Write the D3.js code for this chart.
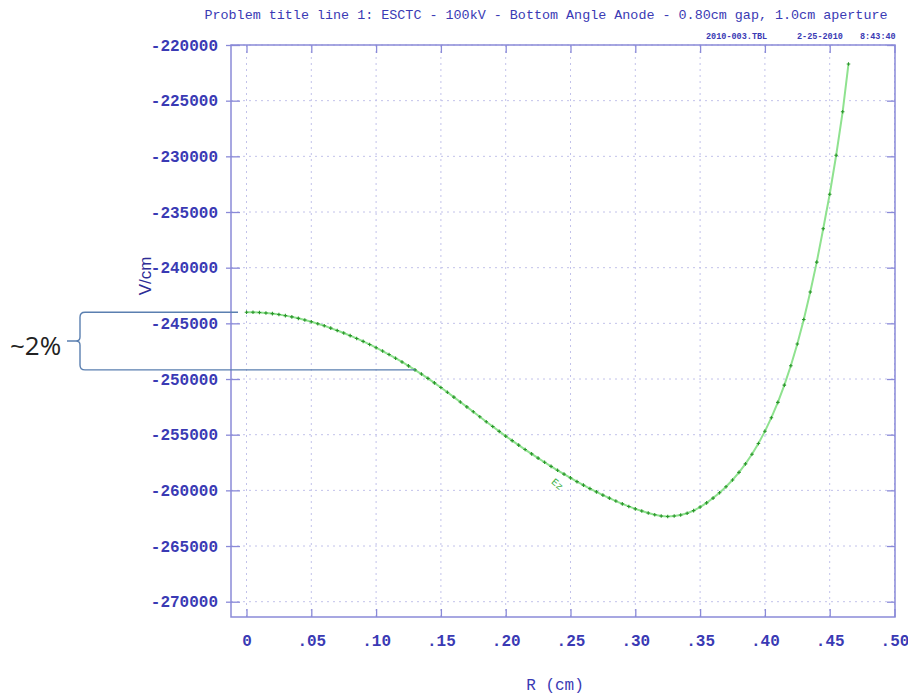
<!DOCTYPE html>
<html>
<head>
<meta charset="utf-8">
<script src="https://d3js.org/d3.v7.min.js"></script>
<style>
  body { margin: 0; background: #fff; }
  svg { display: block; }
</style>
</head>
<body>
<svg id="chart" width="908" height="696"></svg>
<script>
'use strict';

// R (cm) sample positions and Ez (V/cm)
var rValues = [
  0, .005, .010, .015, .020, .025, .030, .035, .040, .045,
  .050, .055, .060, .065, .070, .075, .080, .085, .090, .095,
  .100, .105, .110, .115, .120, .125, .130, .135, .140, .145,
  .150, .155, .160, .165, .170, .175, .180, .185, .190, .195,
  .200, .205, .210, .215, .220, .225, .230, .235, .240, .245,
  .250, .255, .260, .265, .270, .275, .280, .285, .290, .295,
  .300, .305, .310, .315, .320, .325, .330, .335, .340, .345,
  .350, .355, .360, .365, .370, .375, .380, .385, .390, .395,
  .400, .405, .410, .415, .420, .425, .430, .435, .440, .445,
  .450, .455, .460, .4645
];
var ezValues = [
  -244000, -244005, -244025, -244065, -244125, -244205, -244305, -244420, -244550, -244695,
  -244855, -245030, -245220, -245425, -245640, -245865, -246105, -246355, -246620, -246895,
  -247185, -247485, -247800, -248130, -248470, -248820, -249180, -249555, -249945, -250350,
  -250765, -251190, -251622, -252060, -252502, -252946, -253390, -253832, -254270, -254702,
  -255127, -255537, -255940, -256336, -256724, -257105, -257478, -257842, -258198, -258545,
  -258883, -259212, -259531, -259840, -260138, -260425, -260700, -260962, -261210, -261443,
  -261660, -261859, -262037, -262187, -262302, -262347, -262307, -262217, -262057, -261817,
  -261497, -261120, -260693, -260213, -259673, -259066, -258384, -257617, -256755, -255786,
  -254697, -253473, -252097, -250550, -248811, -246857, -244660, -242191, -239500, -236500,
  -233400, -229900, -226000, -221700
];

var xTicks = [0, .05, .10, .15, .20, .25, .30, .35, .40, .45, .50];
var xTickLabels = ['0', '.05', '.10', '.15', '.20', '.25', '.30', '.35', '.40', '.45', '.50'];
var yTicks = [-220000, -225000, -230000, -235000, -240000, -245000,
              -250000, -255000, -260000, -265000, -270000];

var titleText = 'Problem title line 1: ESCTC - 100kV - Bottom Angle Anode - 0.80cm gap, 1.0cm aperture';
var stampTexts = ['2010-003.TBL', '2-25-2010', '8:43:40'];
var xTitle = 'R (cm)';
var yTitle = 'V/cm';
var seriesName = 'Ez';
var noteText = '~2%';
var noteFrom = 0, noteTo = 26;   // indexes into the series spanned by the bracket

var axisColor = '#8a8ad8';
var labelColor = '#3a3ab4';
var gridColor = '#c2c2ea';
var mono = '"Liberation Mono", "DejaVu Sans Mono", monospace';

var svg = d3.select('#chart');

var x = d3.scaleLinear().domain([0, 0.5]).range([246.5, 894.5]);
var y = d3.scaleLinear().domain([-220000, -270000]).range([45, 601.7]);
var frame = { left: 231, right: 895, top: 45, bottom: 617 };

var points = rValues.map(function (r, i) { return { r: r, ez: ezValues[i] }; });

// dotted grid
var grid = svg.append('g').attr('stroke', gridColor).attr('stroke-width', 1)
  .attr('stroke-dasharray', '2,4');
grid.selectAll('line.v').data(xTicks).enter().append('line')
  .attr('class', 'v')
  .attr('x1', function (d) { return x(d); }).attr('x2', function (d) { return x(d); })
  .attr('y1', frame.top).attr('y2', frame.bottom);
grid.selectAll('line.h').data(yTicks).enter().append('line')
  .attr('class', 'h')
  .attr('x1', frame.left).attr('x2', frame.right)
  .attr('y1', function (d) { return y(d); }).attr('y2', function (d) { return y(d); });

// axes
function styleAxis(g) {
  g.select('.domain').remove();
  g.selectAll('.tick line').attr('stroke', axisColor).attr('stroke-width', 1.3);
  g.selectAll('.tick text')
    .attr('fill', labelColor)
    .attr('font-family', mono)
    .attr('font-weight', 'bold')
    .attr('font-size', 16);
}

var yAxisL = svg.append('g')
  .attr('transform', 'translate(' + frame.left + ',0)')
  .call(d3.axisLeft(y).tickValues(yTicks).tickSize(-9).tickPadding(13)
    .tickFormat(function (d) { return String(d); }))
  .call(styleAxis);
yAxisL.selectAll('.tick line').attr('x1', -5);

svg.append('g')
  .attr('transform', 'translate(' + frame.right + ',0)')
  .call(d3.axisRight(y).tickValues(yTicks).tickSize(-8).tickFormat(''))
  .call(styleAxis);

svg.append('g')
  .attr('transform', 'translate(0,' + frame.bottom + ')')
  .call(d3.axisBottom(x).tickValues(xTicks).tickSize(-8).tickPadding(18)
    .tickFormat(function (d, i) { return xTickLabels[i]; }))
  .call(styleAxis);

svg.append('g')
  .attr('transform', 'translate(0,' + frame.top + ')')
  .call(d3.axisTop(x).tickValues(xTicks).tickSize(-8).tickFormat(''))
  .call(styleAxis);

// frame
svg.append('rect')
  .attr('x', frame.left).attr('y', frame.top)
  .attr('width', frame.right - frame.left).attr('height', frame.bottom - frame.top)
  .attr('fill', 'none').attr('stroke', axisColor).attr('stroke-width', 1.5);

// titles
svg.append('text')
  .attr('x', 546).attr('y', 19)
  .attr('text-anchor', 'middle')
  .attr('font-family', mono).attr('font-size', 13.4)
  .attr('fill', labelColor)
  .text(titleText);

svg.selectAll('text.stamp').data(stampTexts).enter().append('text')
  .attr('class', 'stamp')
  .attr('x', function (d, i) { return [706, 797, 860][i]; })
  .attr('y', 39)
  .attr('font-family', mono).attr('font-size', 8.5).attr('font-weight', 'bold')
  .attr('fill', labelColor)
  .text(function (d) { return d; });

svg.append('text')
  .attr('x', 555).attr('y', 690)
  .attr('text-anchor', 'middle')
  .attr('font-family', mono).attr('font-size', 16)
  .attr('fill', labelColor)
  .text(xTitle);

svg.append('text')
  .attr('transform', 'translate(145,276) rotate(-90)')
  .attr('text-anchor', 'middle').attr('dominant-baseline', 'central')
  .attr('font-family', '"Liberation Sans", Arial, sans-serif').attr('font-size', 17)
  .attr('fill', '#2d2d96')
  .text(yTitle);

// the Ez curve
var line = d3.line()
  .x(function (d) { return x(d.r); })
  .y(function (d) { return y(d.ez); });

svg.append('path')
  .datum(points)
  .attr('d', line)
  .attr('fill', 'none')
  .attr('stroke', '#8fe28f')
  .attr('stroke-width', 2);

svg.append('g').selectAll('path').data(points).enter().append('path')
  .attr('transform', function (d) { return 'translate(' + x(d.r) + ',' + y(d.ez) + ')'; })
  .attr('d', 'M-1.8,0H1.8M0,-1.8V1.8')
  .attr('stroke', '#2a962a')
  .attr('stroke-width', 1.1);

svg.append('text')
  .attr('transform', 'translate(' + x(0.2395) + ',' + y(-259500) + ') rotate(40)')
  .attr('text-anchor', 'middle').attr('dominant-baseline', 'central')
  .attr('font-family', mono).attr('font-size', 10)
  .attr('fill', '#3cb043')
  .text(seriesName);

// ~2% bracket annotation
var yt = y(ezValues[noteFrom]);
var yb = y(ezValues[noteTo]);
var ym = (yt + yb) / 2;
var bx = 80;
svg.append('path')
  .attr('d', 'M238,' + yt + 'H' + (bx + 5) + 'Q' + bx + ',' + yt + ' ' + bx + ',' + (yt + 5) +
    'V' + (ym - 4) + 'Q' + bx + ',' + ym + ' ' + (bx - 4) + ',' + ym +
    'Q' + bx + ',' + ym + ' ' + bx + ',' + (ym + 4) +
    'V' + (yb - 5) + 'Q' + bx + ',' + yb + ' ' + (bx + 5) + ',' + yb +
    'H' + x(rValues[noteTo]) +
    'M' + (bx - 13) + ',' + ym + 'H' + (bx - 4))
  .attr('fill', 'none')
  .attr('stroke', '#5a7fb0')
  .attr('stroke-width', 1.4);

svg.append('text')
  .attr('x', 10).attr('y', 355)
  .attr('font-family', '"Open Sans", "Liberation Sans", sans-serif').attr('font-size', 26)
  .attr('fill', '#222')
  .text(noteText);
</script>
</body>
</html>
